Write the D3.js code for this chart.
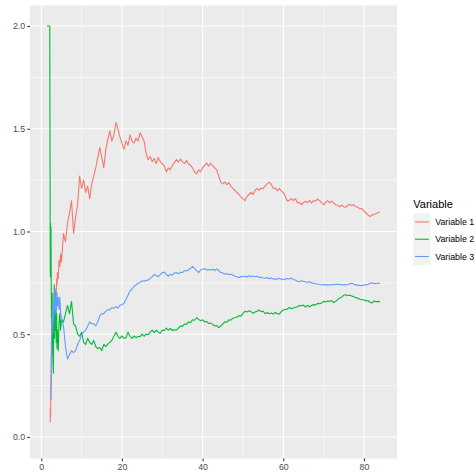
<!DOCTYPE html>
<html>
<head>
<meta charset="utf-8">
<script src="https://cdn.jsdelivr.net/npm/d3@7"></script>
<style>
  body { margin: 0; background: #fff; }
  text { font-family: "Liberation Sans", Arial, sans-serif; }
</style>
</head>
<body>
<div id="chart"></div>
<script>
// x positions shared by the three series
var steps = [
  1.4, 2.1, 2.15, 2.2, 2.25, 2.3, 2.35, 2.4, 2.45, 2.5,
  2.6, 2.7, 2.8, 2.9, 3, 3.1, 3.2, 3.3, 3.4, 3.5,
  3.6, 3.7, 3.8, 3.9, 4, 4.2, 4.4, 4.6, 4.8, 5,
  5.5, 6, 6.5, 7, 7.5, 8, 8.5, 9, 9.5, 10,
  10.5, 11, 11.5, 12, 12.5, 13, 13.5, 14, 14.5, 15,
  15.5, 16, 16.5, 17, 17.5, 18, 18.5, 19, 19.5, 20,
  20.5, 21, 21.5, 22, 22.5, 23, 23.5, 24, 24.5, 25,
  25.5, 26, 26.5, 27, 27.5, 28, 28.5, 29, 29.5, 30,
  30.5, 31, 31.5, 32, 32.5, 33, 33.5, 34, 34.5, 35,
  35.5, 36, 36.5, 37, 37.5, 38, 38.5, 39, 39.5, 40,
  40.5, 41, 41.5, 42, 42.5, 43, 43.5, 44, 44.5, 45,
  45.5, 46, 46.5, 47, 47.5, 48, 48.5, 49, 49.5, 50,
  50.5, 51, 51.5, 52, 52.5, 53, 53.5, 54, 54.5, 55,
  55.5, 56, 56.5, 57, 57.5, 58, 58.5, 59, 59.5, 60,
  60.5, 61, 61.5, 62, 62.5, 63, 63.5, 64, 64.5, 65,
  65.5, 66, 66.5, 67, 67.5, 68, 68.5, 69, 69.5, 70,
  70.5, 71, 71.5, 72, 72.5, 73, 73.5, 74, 74.5, 75,
  75.5, 76, 76.5, 77, 77.5, 78, 78.5, 79, 79.5, 80,
  80.5, 81, 81.5, 82, 82.5, 83, 83.5, 84
];

var variable1 = [
  null, null, null, 0.07, 0.14, 0.10, 0.20, 0.30, 0.25, 0.38,
  0.45, 0.40, 0.52, 0.48, 0.58, 0.55, 0.63, 0.60, 0.70, 0.66,
  0.72, 0.69, 0.77, 0.74, 0.80, 0.77, 0.86, 0.83, 0.89, 0.85,
  0.99, 0.95, 1.04, 1.09, 1.15, 0.99, 1.07, 1.13, 1.27, 1.21,
  1.25, 1.19, 1.22, 1.16, 1.23, 1.27, 1.31, 1.36, 1.41, 1.36,
  1.31, 1.40, 1.45, 1.49, 1.44, 1.47, 1.53, 1.50, 1.46, 1.43,
  1.40, 1.44, 1.42, 1.47, 1.44, 1.43, 1.455, 1.44, 1.48, 1.46,
  1.44, 1.38, 1.35, 1.365, 1.34, 1.355, 1.33, 1.36, 1.34, 1.33,
  1.32, 1.29, 1.31, 1.30, 1.322, 1.335, 1.35, 1.338, 1.352, 1.34,
  1.33, 1.345, 1.328, 1.322, 1.31, 1.29, 1.28, 1.30, 1.29, 1.31,
  1.322, 1.333, 1.318, 1.332, 1.32, 1.31, 1.30, 1.27, 1.24, 1.232,
  1.242, 1.228, 1.238, 1.22, 1.21, 1.20, 1.19, 1.18, 1.168, 1.16,
  1.15, 1.17, 1.18, 1.19, 1.18, 1.20, 1.21, 1.20, 1.212, 1.208,
  1.222, 1.232, 1.24, 1.23, 1.21, 1.212, 1.198, 1.21, 1.198, 1.19,
  1.17, 1.148, 1.152, 1.16, 1.15, 1.16, 1.14, 1.142, 1.13, 1.14,
  1.148, 1.14, 1.152, 1.138, 1.15, 1.148, 1.158, 1.15, 1.14, 1.13,
  1.142, 1.15, 1.14, 1.148, 1.138, 1.13, 1.128, 1.12, 1.13, 1.12,
  1.118, 1.128, 1.132, 1.126, 1.13, 1.12, 1.118, 1.11, 1.112, 1.10,
  1.09, 1.08, 1.072, 1.08, 1.082, 1.088, 1.092, 1.094
];

var variable2 = [
  2.0, 2.0, 1.50, 1.04, 0.78, 1.04, 0.80, 1.02, 0.79, 0.62,
  0.45, 0.70, 0.50, 0.36, 0.31, 0.55, 0.74, 0.48, 0.66, 0.52,
  0.70, 0.46, 0.60, 0.43, 0.52, 0.42, 0.56, 0.60, 0.52, 0.57,
  0.56, 0.60, 0.64, 0.60, 0.66, 0.55, 0.54, 0.50, 0.49, 0.51,
  0.46, 0.45, 0.48, 0.46, 0.45, 0.47, 0.44, 0.43, 0.435, 0.42,
  0.45, 0.44, 0.452, 0.46, 0.47, 0.49, 0.51, 0.49, 0.48, 0.492,
  0.48, 0.482, 0.51, 0.49, 0.48, 0.492, 0.482, 0.49, 0.488, 0.50,
  0.49, 0.50, 0.498, 0.51, 0.52, 0.508, 0.52, 0.51, 0.505, 0.52,
  0.518, 0.53, 0.52, 0.528, 0.518, 0.522, 0.52, 0.53, 0.54, 0.538,
  0.55, 0.548, 0.56, 0.556, 0.57, 0.568, 0.58, 0.572, 0.566, 0.57,
  0.56, 0.562, 0.552, 0.554, 0.548, 0.54, 0.542, 0.532, 0.54, 0.55,
  0.56, 0.558, 0.57, 0.568, 0.578, 0.58, 0.584, 0.59, 0.588, 0.60,
  0.612, 0.608, 0.614, 0.61, 0.602, 0.608, 0.612, 0.618, 0.61, 0.612,
  0.60, 0.606, 0.60, 0.603, 0.598, 0.606, 0.60, 0.598, 0.61, 0.618,
  0.62, 0.622, 0.63, 0.624, 0.628, 0.63, 0.634, 0.64, 0.638, 0.642,
  0.632, 0.64, 0.634, 0.64, 0.644, 0.642, 0.65, 0.648, 0.652, 0.66,
  0.658, 0.662, 0.66, 0.664, 0.654, 0.66, 0.668, 0.676, 0.68, 0.69,
  0.692, 0.688, 0.69, 0.686, 0.682, 0.678, 0.675, 0.67, 0.668, 0.668,
  0.662, 0.664, 0.656, 0.652, 0.662, 0.658, 0.66, 0.658
];

var variable3 = [
  null, null, null, null, null, null, null, 0.18, 0.30, 0.45,
  0.58, 0.50, 0.62, 0.55, 0.64, 0.58, 0.70, 0.62, 0.72, 0.66,
  0.60, 0.68, 0.62, 0.70, 0.64, 0.68, 0.62, 0.68, 0.60, 0.58,
  0.54, 0.44, 0.38, 0.40, 0.42, 0.41, 0.42, 0.45, 0.47, 0.50,
  0.51, 0.52, 0.54, 0.56, 0.55, 0.552, 0.54, 0.56, 0.59, 0.60,
  0.60, 0.612, 0.62, 0.618, 0.63, 0.626, 0.634, 0.628, 0.64, 0.645,
  0.65, 0.67, 0.69, 0.71, 0.72, 0.732, 0.74, 0.748, 0.752, 0.76,
  0.758, 0.762, 0.764, 0.772, 0.78, 0.79, 0.786, 0.78, 0.79, 0.80,
  0.802, 0.79, 0.782, 0.792, 0.788, 0.798, 0.80, 0.794, 0.802, 0.80,
  0.81, 0.808, 0.814, 0.82, 0.83, 0.82, 0.81, 0.80, 0.812, 0.816,
  0.82, 0.812, 0.815, 0.812, 0.816, 0.81, 0.818, 0.81, 0.80, 0.798,
  0.792, 0.795, 0.79, 0.792, 0.788, 0.782, 0.78, 0.776, 0.781, 0.78,
  0.782, 0.779, 0.784, 0.78, 0.783, 0.78, 0.782, 0.776, 0.778, 0.774,
  0.772, 0.776, 0.77, 0.774, 0.768, 0.77, 0.767, 0.772, 0.768, 0.766,
  0.768, 0.771, 0.769, 0.773, 0.766, 0.764, 0.758, 0.756, 0.76, 0.757,
  0.755, 0.752, 0.755, 0.75, 0.748, 0.746, 0.744, 0.742, 0.741, 0.74,
  0.742, 0.739, 0.741, 0.74, 0.743, 0.741, 0.744, 0.742, 0.74, 0.741,
  0.74, 0.742, 0.745, 0.748, 0.743, 0.74, 0.737, 0.738, 0.736, 0.74,
  0.74, 0.742, 0.748, 0.75, 0.747, 0.746, 0.749, 0.748
];

var seriesNames = ["Variable 1", "Variable 2", "Variable 3"];
var seriesColors = ["#F8766D", "#00BA38", "#619CFF"];
var xTicks = [0, 20, 40, 60, 80];
var xMinor = [10, 30, 50, 70];
var yTicks = [0, 0.5, 1, 1.5, 2];
var yMinor = [0.25, 0.75, 1.25, 1.75];

var svgWidth = 476;
var svgHeight = 474;

var panel = { left: 30, right: 397, top: 5.5, bottom: 458.5 };

var svg = d3.select("#chart")
  .append("svg")
  .attr("width", svgWidth)
  .attr("height", svgHeight);

var xScale = d3.scaleLinear()
  .domain([-2.8, 88.2])
  .range([panel.left, panel.right]);

var yScale = d3.scaleLinear()
  .domain([-0.105, 2.1])
  .range([panel.bottom, panel.top]);

// panel background
svg.append("rect")
  .attr("x", panel.left)
  .attr("y", panel.top)
  .attr("width", panel.right - panel.left)
  .attr("height", panel.bottom - panel.top)
  .attr("fill", "#EBEBEB");

var grid = svg.append("g");

grid.selectAll(".vminor").data(xMinor).enter().append("line")
  .attr("x1", d => xScale(d)).attr("x2", d => xScale(d))
  .attr("y1", panel.top).attr("y2", panel.bottom)
  .attr("stroke", "#fff").attr("stroke-width", 0.55);

grid.selectAll(".hminor").data(yMinor).enter().append("line")
  .attr("x1", panel.left).attr("x2", panel.right)
  .attr("y1", d => yScale(d)).attr("y2", d => yScale(d))
  .attr("stroke", "#fff").attr("stroke-width", 0.55);

grid.selectAll(".vmajor").data(xTicks).enter().append("line")
  .attr("x1", d => xScale(d)).attr("x2", d => xScale(d))
  .attr("y1", panel.top).attr("y2", panel.bottom)
  .attr("stroke", "#fff").attr("stroke-width", 1.1);

grid.selectAll(".hmajor").data(yTicks).enter().append("line")
  .attr("x1", panel.left).attr("x2", panel.right)
  .attr("y1", d => yScale(d)).attr("y2", d => yScale(d))
  .attr("stroke", "#fff").attr("stroke-width", 1.1);

// lines
var lineData = [variable1, variable2, variable3].map(function(vals, i) {
  return {
    name: seriesNames[i],
    color: seriesColors[i],
    points: steps.map((x, j) => ({ x: x, y: vals[j] }))
  };
});

var line = d3.line()
  .defined(d => d.y != null)
  .x(d => xScale(d.x))
  .y(d => yScale(d.y));

svg.append("g")
  .selectAll("path")
  .data(lineData)
  .enter()
  .append("path")
  .attr("d", d => line(d.points))
  .attr("fill", "none")
  .attr("stroke", d => d.color)
  .attr("stroke-width", 1.1)
  .attr("stroke-linejoin", "round");

// axes
var bottomAxis = d3.axisBottom(xScale)
  .tickValues(xTicks)
  .tickSize(2.7)
  .tickPadding(2.2)
  .tickFormat(d3.format("d"));

var leftAxis = d3.axisLeft(yScale)
  .tickValues(yTicks)
  .tickSize(2.7)
  .tickPadding(2.2)
  .tickFormat(d3.format(".1f"));

var gx = svg.append("g")
  .attr("transform", `translate(0, ${panel.bottom})`)
  .call(bottomAxis);

var gy = svg.append("g")
  .attr("transform", `translate(${panel.left}, 0)`)
  .call(leftAxis);

[gx, gy].forEach(function(g) {
  g.select(".domain").remove();
  g.selectAll(".tick line").attr("stroke", "#333333").attr("stroke-width", 1.07);
  g.selectAll(".tick text")
    .attr("fill", "#4D4D4D")
    .attr("font-size", "8.8px")
    .attr("font-family", "Liberation Sans, Arial, sans-serif");
});

// legend
var legend = svg.append("g").attr("transform", "translate(413.3, 0)");

legend.append("text")
  .attr("x", 0)
  .attr("y", 208)
  .attr("font-size", "11px")
  .attr("fill", "#000")
  .text("Variable");

var keys = legend.selectAll(".key")
  .data(lineData)
  .enter()
  .append("g")
  .attr("transform", (d, i) => `translate(0, ${213.3 + i * 17.28})`);

keys.append("rect")
  .attr("width", 17.28)
  .attr("height", 17.28)
  .attr("fill", "#F2F2F2");

keys.append("line")
  .attr("x1", 1.7).attr("x2", 15.6)
  .attr("y1", 8.64).attr("y2", 8.64)
  .attr("stroke", d => d.color)
  .attr("stroke-width", 1.1);

keys.append("text")
  .attr("x", 21.9)
  .attr("y", 8.64)
  .attr("dy", "0.35em")
  .attr("font-size", "8.8px")
  .attr("fill", "#000")
  .text(d => d.name);
</script>
</body>
</html>
